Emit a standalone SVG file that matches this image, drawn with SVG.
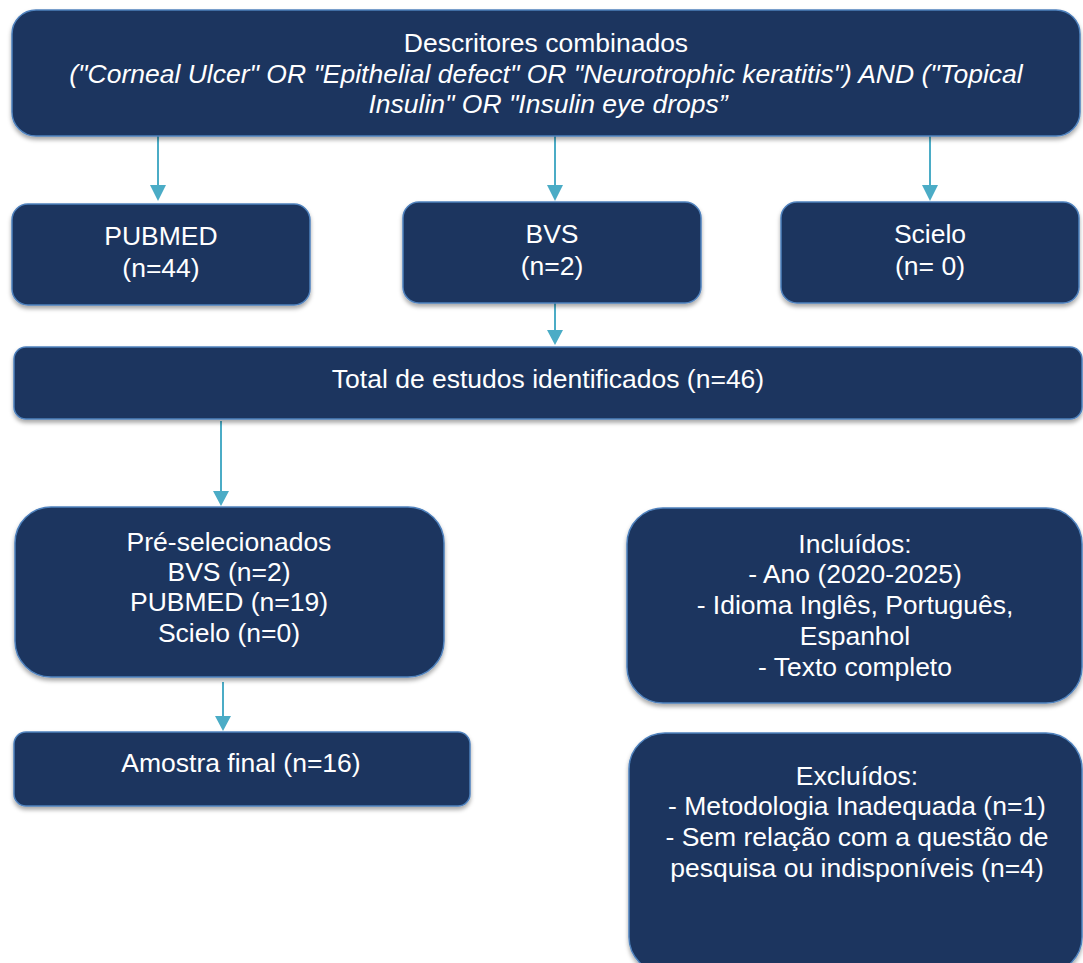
<svg xmlns="http://www.w3.org/2000/svg" width="1083" height="963" viewBox="0 0 1083 963">
<defs>
<filter id="sh" x="-5%" y="-10%" width="110%" height="130%">
<feDropShadow dx="0" dy="3" stdDeviation="2" flood-color="#000" flood-opacity="0.35"/>
</filter>
</defs>
<style>
.box{fill:#1b365e;stroke:#4f81bd;stroke-width:1.5;filter:url(#sh)}
.t{fill:#fff;font-family:"Liberation Sans",Arial,sans-serif;font-size:26.5px;text-anchor:middle}
.it{font-style:italic}
.c{stroke:#4bacc6;stroke-width:2;fill:none}
.h{fill:#4bacc6}
</style>
<g id="connectors">
<line class="c" x1="158" y1="128" x2="158" y2="186"/>
<path class="h" d="M150,185 L166,185 L158,201 Z"/>
<line class="c" x1="555" y1="128" x2="555" y2="186"/>
<path class="h" d="M547,185 L563,185 L555,201 Z"/>
<line class="c" x1="930" y1="128" x2="930" y2="186"/>
<path class="h" d="M922,185 L938,185 L930,201 Z"/>
<line class="c" x1="555" y1="303" x2="555" y2="331"/>
<path class="h" d="M547,330 L563,330 L555,345 Z"/>
<line class="c" x1="221" y1="421" x2="221" y2="492"/>
<path class="h" d="M213,491 L229,491 L221,506 Z"/>
<line class="c" x1="223" y1="682" x2="223" y2="717"/>
<path class="h" d="M215,716 L231,716 L223,731 Z"/>
</g>
<g id="descritores">
<rect class="box" x="12" y="10" width="1068" height="126" rx="24"/>
<text class="t" x="546" y="52">Descritores combinados</text>
<text class="t it" x="546" y="83">("Corneal Ulcer" OR "Epithelial defect" OR "Neurotrophic keratitis") AND ("Topical</text>
<text class="t it" x="548" y="113">Insulin" OR "Insulin eye drops”</text>
</g>
<g id="pubmed">
<rect class="box" x="12" y="204" width="298" height="101" rx="16"/>
<text class="t" x="161" y="245">PUBMED</text>
<text class="t" x="161" y="277">(n=44)</text>
</g>
<g id="bvs">
<rect class="box" x="403" y="202" width="298" height="101" rx="16"/>
<text class="t" x="552" y="243">BVS</text>
<text class="t" x="552" y="275">(n=2)</text>
</g>
<g id="scielo">
<rect class="box" x="781" y="202" width="298" height="101" rx="16"/>
<text class="t" x="930" y="243">Scielo</text>
<text class="t" x="930" y="275">(n= 0)</text>
</g>
<g id="total">
<rect class="box" x="14" y="347" width="1068" height="72" rx="12"/>
<text class="t" x="548" y="388">Total de estudos identificados (n=46)</text>
</g>
<g id="preselecionados">
<rect class="box" x="15" y="507" width="429" height="170" rx="36"/>
<text class="t" x="229" y="551">Pré-selecionados</text>
<text class="t" x="229" y="581">BVS (n=2)</text>
<text class="t" x="229" y="611">PUBMED (n=19)</text>
<text class="t" x="229" y="642">Scielo (n=0)</text>
</g>
<g id="amostra">
<rect class="box" x="14" y="732" width="456" height="74" rx="12"/>
<text class="t" x="241" y="772">Amostra final (n=16)</text>
</g>
<g id="incluidos">
<rect class="box" x="627" y="508" width="455" height="195" rx="36"/>
<text class="t" x="855" y="553">Incluídos:</text>
<text class="t" x="855" y="583">- Ano (2020-2025)</text>
<text class="t" x="855" y="614">- Idioma Inglês, Português,</text>
<text class="t" x="855" y="645">Espanhol</text>
<text class="t" x="855" y="676">- Texto completo</text>
</g>
<g id="excluidos">
<rect class="box" x="629" y="733" width="453" height="240" rx="36"/>
<text class="t" x="857" y="785">Excluídos:</text>
<text class="t" x="857" y="815">- Metodologia Inadequada (n=1)</text>
<text class="t" x="857" y="846">- Sem relação com a questão de</text>
<text class="t" x="857" y="877">pesquisa ou indisponíveis (n=4)</text>
</g>
</svg>
